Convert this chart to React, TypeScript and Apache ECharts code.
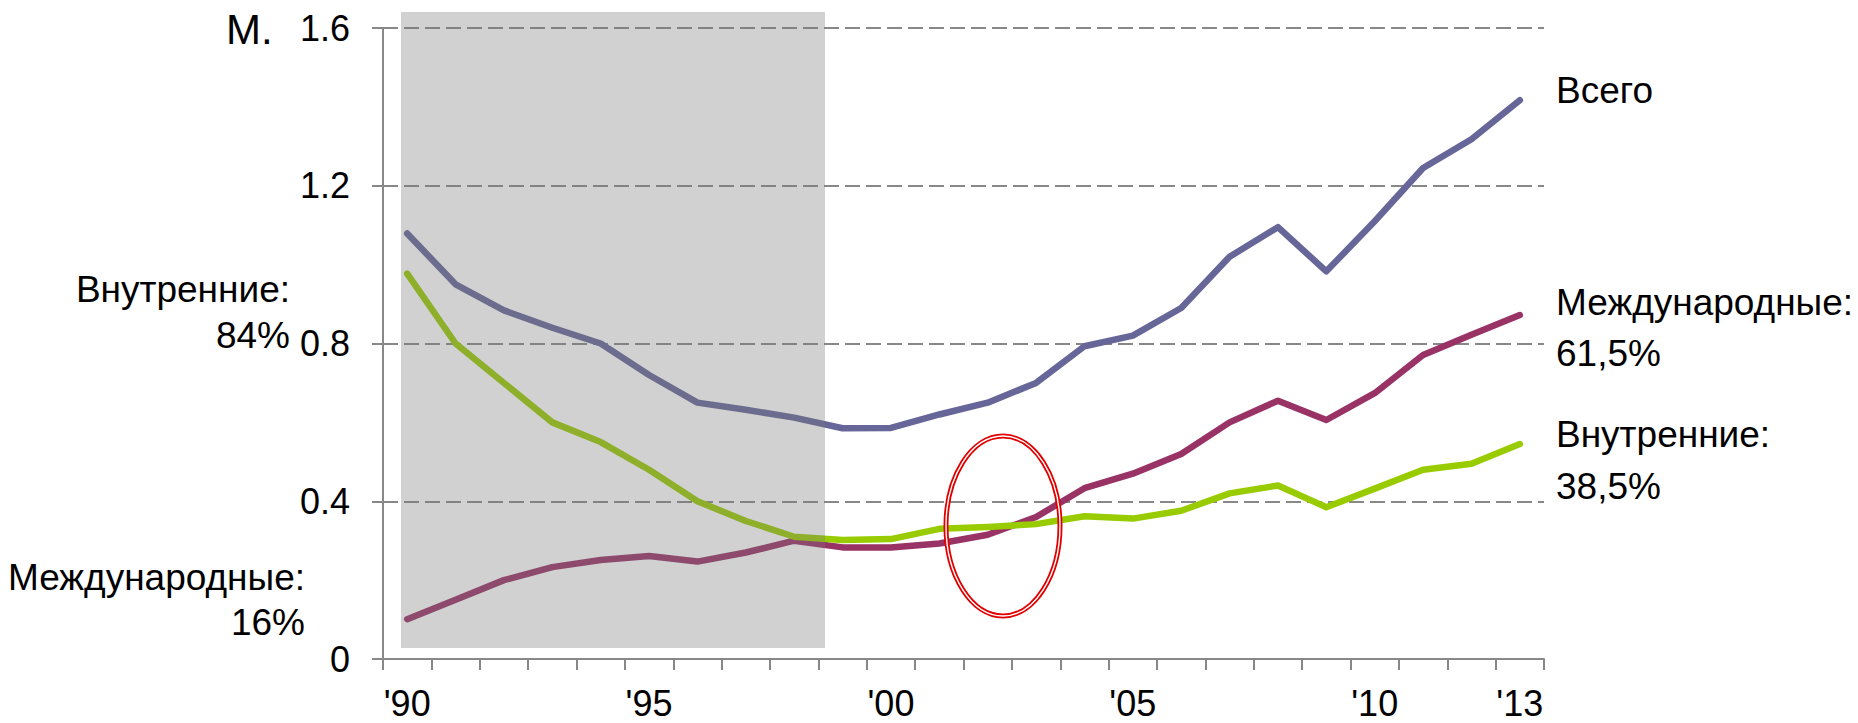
import React, { useEffect, useRef } from "react";
import * as echarts from "echarts";

const years = ["'90", "'91", "'92", "'93", "'94", "'95", "'96", "'97", "'98", "'99", "'00", "'01", "'02", "'03", "'04", "'05", "'06", "'07", "'08", "'09", "'10", "'11", "'12", "'13"];
const shownYears = ["'90", "'95", "'00", "'05", "'10", "'13"];
const total = [1.079, 0.95, 0.884, 0.84, 0.80, 0.72, 0.65, 0.632, 0.612, 0.585, 0.586, 0.62, 0.65, 0.70, 0.793, 0.82, 0.89, 1.02, 1.095, 0.983, 1.11, 1.245, 1.318, 1.417];
const domestic = [0.977, 0.80, 0.70, 0.60, 0.55, 0.48, 0.40, 0.35, 0.31, 0.302, 0.304, 0.33, 0.335, 0.342, 0.362, 0.356, 0.376, 0.42, 0.44, 0.385, 0.432, 0.48, 0.495, 0.545];
const international = [0.101, 0.15, 0.20, 0.233, 0.251, 0.261, 0.247, 0.27, 0.30, 0.283, 0.283, 0.293, 0.315, 0.36, 0.433, 0.47, 0.52, 0.60, 0.655, 0.606, 0.674, 0.771, 0.822, 0.872];
const yTicks = ["0", "0.4", "0.8", "1.2", "1.6"];

const FONT = '"Liberation Sans", Arial, sans-serif';

export default function App() {
  const ref = useRef<HTMLDivElement>(null);
  useEffect(() => {
    if (!ref.current) return;
    const chart = echarts.init(ref.current, undefined, { renderer: "svg" });
    const txt = (text: string, x: number, y: number, align: string, size = 37) => ({
      type: "text",
      z: 30,
      style: { text, x, y, align, verticalAlign: "middle", fontSize: size, fontFamily: FONT, fill: "#000" },
    });
    chart.setOption({
      animation: false,
      backgroundColor: "#fff",
      grid: { left: 383, right: 314, top: 28, bottom: 64 },
      xAxis: {
        type: "category",
        data: years,
        boundaryGap: true,
        axisLine: { lineStyle: { color: "#888", width: 2 } },
        axisTick: { show: true, length: 11, lineStyle: { color: "#888", width: 2 } },
        axisLabel: {
          interval: 0,
          formatter: (v: string) => (shownYears.includes(v) ? v : ""),
          fontSize: 36,
          fontFamily: FONT,
          color: "#000",
          margin: 26,
        },
        splitLine: { show: false },
      },
      yAxis: {
        type: "value",
        min: 0,
        max: 1.6,
        interval: 0.4,
        axisLine: { show: true, lineStyle: { color: "#888", width: 2 } },
        axisTick: { show: true, length: 11, lineStyle: { color: "#888", width: 2 } },
        axisLabel: {
          formatter: (v: number) => yTicks[Math.round(v / 0.4)] ?? "",
          fontSize: 36,
          fontFamily: FONT,
          color: "#000",
          margin: 33,
        },
        splitLine: { show: true, lineStyle: { color: "#888", width: 2, type: [15, 6] } },
      },
      series: [
        { name: "Всего", type: "line", data: total, symbol: "none", lineStyle: { color: "#666699", width: 6.5, cap: "round", join: "round" }, z: 3 },
        { name: "Международные", type: "line", data: international, symbol: "none", lineStyle: { color: "#993366", width: 6.5, cap: "round", join: "round" }, z: 4 },
        { name: "Внутренние", type: "line", data: domestic, symbol: "none", lineStyle: { color: "#99CC00", width: 6.5, cap: "round", join: "round" }, z: 5 },
      ],
      graphic: [
        { type: "rect", z: 20, shape: { x: 401, y: 12, width: 424, height: 636 }, style: { fill: "rgba(121,121,121,0.34)" } },
        { type: "ellipse", z: 25, shape: { cx: 1003, cy: 526, rx: 57, ry: 90 }, style: { fill: "none", stroke: "#e00000", lineWidth: 5 } },
        { type: "ellipse", z: 26, shape: { cx: 1003, cy: 526, rx: 57, ry: 90 }, style: { fill: "none", stroke: "#ffffff", lineWidth: 1.4 } },
        txt("M.", 226, 29, "left", 42),
        txt("Внутренние:", 290, 289, "right"),
        txt("84%", 290, 335, "right"),
        txt("Международные:", 305, 577, "right"),
        txt("16%", 305, 622, "right"),
        txt("Всего", 1556, 90, "left"),
        txt("Международные:", 1556, 302, "left"),
        txt("61,5%", 1556, 353, "left"),
        txt("Внутренние:", 1556, 434, "left"),
        txt("38,5%", 1556, 486, "left"),
      ],
    });
    return () => chart.dispose();
  }, []);
  return <div ref={ref} style={{ position: "fixed", left: 0, top: 0, width: 1858, height: 723 }} />;
}
